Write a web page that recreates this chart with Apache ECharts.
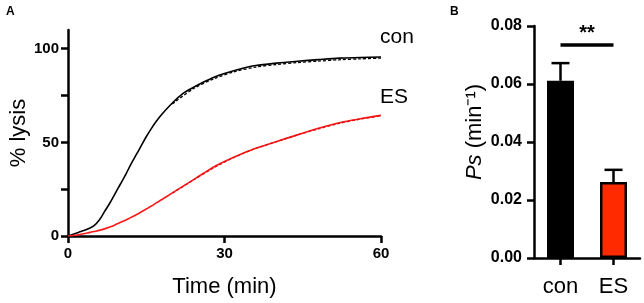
<!DOCTYPE html>
<html>
<head>
<meta charset="utf-8">
<script src="https://cdn.jsdelivr.net/npm/echarts@6/dist/echarts.min.js"></script>
<style>
  html, body { margin: 0; padding: 0; background: #fff; }
  #main { width: 644px; height: 303px; }
</style>
</head>
<body>
<div id="main"></div>
<script>
// panel A: lysis time course (min, %)
var timeMin = [0, 1, 2, 3, 4, 5, 6, 7, 8, 9, 10, 11, 12, 13, 14, 15, 16, 17, 18, 20, 22, 24, 26, 28, 30, 33, 36, 40, 44, 48, 52, 56, 60];
var conLysis = [0, 0.9, 1.9, 2.9, 4, 5.5, 8.5, 13, 17.5, 22.5, 27.5, 32.5, 38, 43, 48, 53, 57.5, 61.5, 65, 71, 76, 79.3, 82.2, 84.8, 86.8, 89.2, 91, 92.3, 93.3, 94.2, 95, 95.3, 95.6];
var esLysis = [0, 0.3, 0.7, 1.2, 1.8, 2.4, 3, 3.8, 4.8, 5.9, 7.2, 8.4, 9.8, 11.2, 12.8, 14.4, 16, 17.8, 19.5, 23, 26.5, 30, 33.5, 37, 39.8, 43.5, 46.8, 50.5, 54, 57.5, 60.5, 62.6, 64.4];
// dashed fitted curves
var fitTime = [20, 24, 28, 32, 36, 40, 44, 48, 52, 56, 60];
var conFit = [70.5, 78.6, 84, 87.8, 90.2, 91.6, 92.6, 93.4, 94.1, 94.6, 95.0];
var esFit = [22.8, 29.8, 36.5, 42.2, 46.8, 50.4, 54, 57.2, 60.1, 62.4, 64.2];

// panel B: Ps (min-1)
var groups = ['con', 'ES'];
var psMean = [0.0611, 0.0262];
var psErrTop = [0.0672, 0.0304];
var barColors = ['#000000', '#ff2a00'];
var sigLevel = 0.0737;

var yTicksA = [0, 25, 50, 75, 100];
var yLabelsA = [0, 50, 100];

function pairs(xs, ys) {
  return xs.map(function (x, i) { return [x, ys[i]]; });
}

var font = 'Liberation Sans, Arial, Helvetica, sans-serif';
var axisLine = { show: true, lineStyle: { color: '#000', width: 2.5 } };
var axisTick = { show: true, length: 7, lineStyle: { color: '#000', width: 2.5 } };

var chart = echarts.init(document.getElementById('main'));
var option = {
  animation: false,
  textStyle: { fontFamily: font },
  title: [
    { text: 'A', left: 1, top: 1, textStyle: { fontSize: 12, fontWeight: 'bold', color: '#000', fontFamily: font } },
    { text: 'B', left: 445, top: 1, textStyle: { fontSize: 12, fontWeight: 'bold', color: '#000', fontFamily: font } }
  ],
  grid: [
    { left: 68, top: 30, width: 313, height: 209 },
    { left: 534, top: 26, width: 106, height: 232 }
  ],
  xAxis: [
    {
      gridIndex: 0,
      type: 'value',
      min: 0,
      max: 60,
      interval: 30,
      axisLine: axisLine,
      axisTick: axisTick,
      splitLine: { show: false },
      axisLabel: { color: '#000', fontSize: 15, fontWeight: 'bold', margin: 10, fontFamily: font },
      name: 'Time (min)',
      nameLocation: 'middle',
      nameGap: 40,
      nameTextStyle: { color: '#000', fontSize: 22, fontFamily: font }
    },
    {
      gridIndex: 1,
      type: 'category',
      data: groups,
      axisLine: axisLine,
      axisTick: { show: true, alignWithLabel: true, length: 7, lineStyle: { color: '#000', width: 2.5 } },
      axisLabel: { color: '#000', fontSize: 22, margin: 18, fontFamily: font }
    }
  ],
  yAxis: [
    {
      gridIndex: 0,
      type: 'value',
      min: 0,
      max: 110,
      axisLine: axisLine,
      axisTick: { show: true, length: 7, customValues: yTicksA, lineStyle: { color: '#000', width: 2.5 } },
      splitLine: { show: false },
      axisLabel: { color: '#000', fontSize: 15, fontWeight: 'bold', margin: 9, customValues: yLabelsA, fontFamily: font },
      name: '% lysis',
      nameLocation: 'middle',
      nameGap: 35,
      nameTextStyle: { color: '#000', fontSize: 22, fontFamily: font }
    },
    {
      gridIndex: 1,
      type: 'value',
      min: 0,
      max: 0.08,
      interval: 0.02,
      axisLine: axisLine,
      axisTick: axisTick,
      splitLine: { show: false },
      axisLabel: {
        color: '#000', fontSize: 16, fontWeight: 'bold', margin: 12, fontFamily: font,
        formatter: function (v) { return v.toFixed(2); }
      },
      name: '{i|Ps} (min⁻¹)',
      nameLocation: 'middle',
      nameGap: 48,
      nameTextStyle: {
        color: '#000', fontSize: 22, fontFamily: font, padding: [0, 0, 0, 20],
        rich: { i: { fontStyle: 'italic', fontSize: 22, color: '#000', fontFamily: font } }
      }
    }
  ],
  series: [
    {
      name: 'con',
      type: 'line',
      xAxisIndex: 0,
      yAxisIndex: 0,
      data: pairs(timeMin, conLysis),
      symbol: 'none',
      smooth: 0.3,
      lineStyle: { color: '#000', width: 1.6 },
      endLabel: { show: true, formatter: 'con', offset: [-9, -20], color: '#000', fontSize: 21, fontFamily: font }
    },
    {
      name: 'ES',
      type: 'line',
      xAxisIndex: 0,
      yAxisIndex: 0,
      data: pairs(timeMin, esLysis),
      symbol: 'none',
      smooth: 0.3,
      lineStyle: { color: '#ff1a1a', width: 1.6 },
      endLabel: { show: true, formatter: 'ES', offset: [-9, -18], color: '#000', fontSize: 21, fontFamily: font }
    },
    {
      name: 'con fit',
      type: 'line',
      xAxisIndex: 0,
      yAxisIndex: 0,
      data: pairs(fitTime, conFit),
      symbol: 'none',
      smooth: 0.3,
      lineStyle: { color: '#000', width: 1.3, type: [3, 2] }
    },
    {
      name: 'ES fit',
      type: 'line',
      xAxisIndex: 0,
      yAxisIndex: 0,
      data: pairs(fitTime, esFit),
      symbol: 'none',
      smooth: 0.3,
      lineStyle: { color: '#e01010', width: 1.3, type: [3, 2] }
    },
    {
      name: 'Ps',
      type: 'bar',
      xAxisIndex: 1,
      yAxisIndex: 1,
      barWidth: 27,
      data: psMean.map(function (v, i) {
        return { value: v, itemStyle: { color: barColors[i], borderColor: '#000', borderWidth: 2.5 } };
      }),
      markLine: {
        silent: true,
        symbol: ['none', 'none'],
        lineStyle: { color: '#000', width: 3.5, type: 'solid' },
        label: { show: true, position: 'middle', formatter: '**', color: '#000', fontSize: 20, fontWeight: 'bold', distance: 1, fontFamily: font },
        data: [[{ coord: [0, sigLevel] }, { coord: [1, sigLevel] }]]
      }
    },
    {
      name: 'SEM',
      type: 'custom',
      xAxisIndex: 1,
      yAxisIndex: 1,
      z: 1,
      data: psMean.map(function (v, i) { return [i, v, psErrTop[i]]; }),
      renderItem: function (params, api) {
        var base = api.coord([api.value(0), api.value(1)]);
        var top = api.coord([api.value(0), api.value(2)]);
        var style = { stroke: '#000', lineWidth: 2.5 };
        return {
          type: 'group',
          children: [
            { type: 'line', shape: { x1: base[0], y1: base[1], x2: top[0], y2: top[1] }, style: style },
            { type: 'line', shape: { x1: top[0] - 9, y1: top[1], x2: top[0] + 9, y2: top[1] }, style: style }
          ]
        };
      }
    }
  ]
};
chart.setOption(option);
</script>
</body>
</html>
